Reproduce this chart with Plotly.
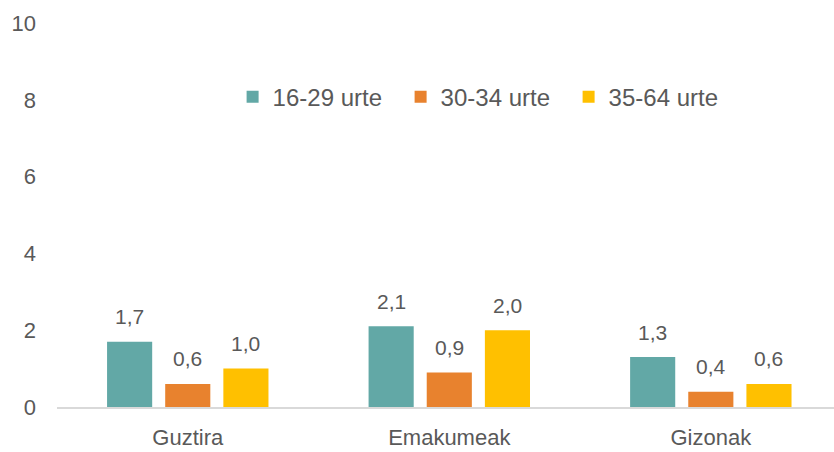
import plotly.graph_objects as go

categories = ["Guztira", "Emakumeak", "Gizonak"]
series_names = ["16-29 urte", "30-34 urte", "35-64 urte"]
values_16_29 = [1.7, 2.1, 1.3]
values_30_34 = [0.6, 0.9, 0.4]
values_35_64 = [1.0, 2.0, 0.6]
y_ticks = [0, 2, 4, 6, 8, 10]

colors = ["#62A8A6", "#E8822E", "#FFC000"]
all_values = [values_16_29, values_30_34, values_35_64]

FONT = "Liberation Sans"
TXT = "#595959"

fig = go.Figure()
for name, vals, col in zip(series_names, all_values, colors):
    fig.add_trace(go.Bar(
        x=categories, y=vals, name=name, marker_color=col,
        marker_line_width=0,
    ))

# value labels (decimal comma), placed above each bar
slot_px = 58
for i, vals in enumerate(all_values):
    for cat, v in zip(categories, vals):
        fig.add_annotation(
            x=cat, y=v, text=f"{v:.1f}".replace(".", ","),
            showarrow=False, xshift=(i - 1) * slot_px, yshift=25,
            font=dict(family=FONT, size=21, color=TXT),
        )

fig.update_layout(
    width=834, height=452,
    margin=dict(l=57, r=0, t=23, b=45, autoexpand=False),
    paper_bgcolor="white", plot_bgcolor="white",
    barmode="group", bargap=0.333, bargroupgap=0.224,
    font=dict(family=FONT, size=21, color=TXT),
    legend=dict(
        orientation="h", x=0.226, xanchor="left", y=0.807, yanchor="middle",
        font=dict(family=FONT, size=24, color=TXT),
        bgcolor="rgba(0,0,0,0)", entrywidth=123, entrywidthmode="pixels",
    ),
    showlegend=True,
)
fig.update_xaxes(
    range=[-0.5, 2.471], showline=True, linecolor="#D9D9D9", linewidth=1.5,
    ticks="", showgrid=False, automargin=False, ticklabelstandoff=10,
    tickfont=dict(family=FONT, size=22, color=TXT),
)
fig.update_yaxes(
    range=[0, 10], tickvals=y_ticks, showgrid=False, zeroline=False,
    showline=False, ticks="", ticklabelstandoff=20, automargin=False,
    tickfont=dict(family=FONT, size=22, color=TXT),
)

fig.write_html(
    "out.html",
    config={"displayModeBar": False},
    post_script="document.body.style.margin='0';",
)
